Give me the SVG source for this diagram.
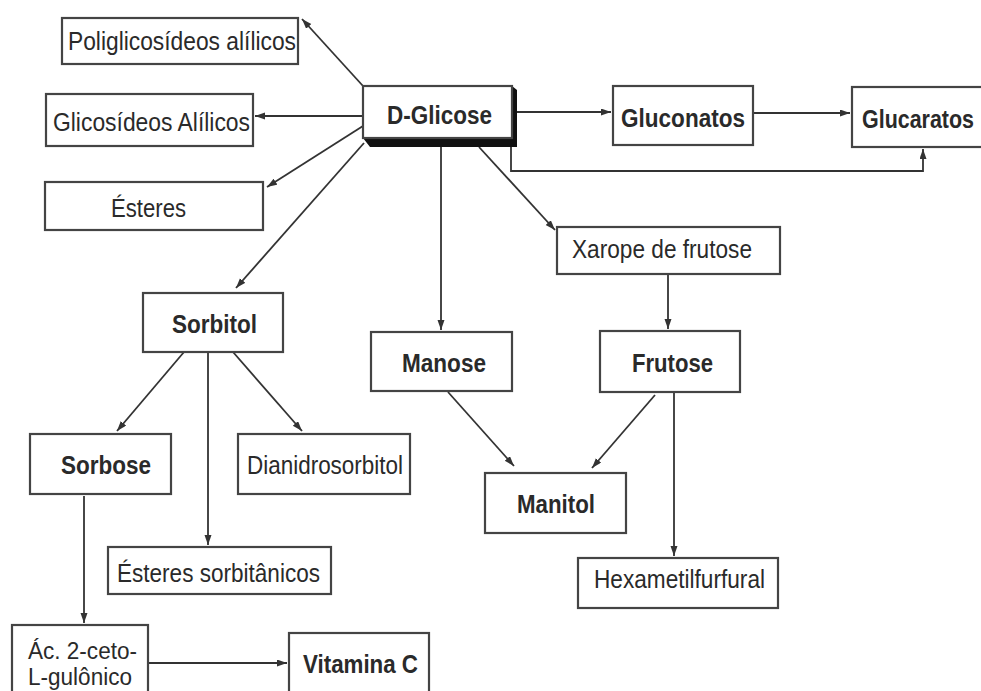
<svg xmlns="http://www.w3.org/2000/svg" width="981" height="691" viewBox="0 0 981 691">
<style>
.box{fill:#fff;stroke:#444;stroke-width:2.2}
.t{font-family:"Liberation Sans",Arial,sans-serif;font-size:25px;fill:#2a2a2a;text-anchor:middle}
.s{font-size:23px}
.b{font-weight:bold}
.c{fill:none;stroke:#333;stroke-width:1.8}
</style>
<defs>
<marker id="ah" markerUnits="userSpaceOnUse" markerWidth="11" markerHeight="8" refX="10" refY="3.5" orient="auto">
<path d="M0,0 L10,3.5 L0,7 z" fill="#333"/>
</marker>
</defs>
<rect width="981" height="691" fill="#fff"/>
<g id="connectors">
<line class="c" x1="363" y1="86" x2="302" y2="19" marker-end="url(#ah)"/>
<line class="c" x1="363" y1="116" x2="255" y2="116" marker-end="url(#ah)"/>
<line class="c" x1="363" y1="126" x2="267" y2="187" marker-end="url(#ah)"/>
<line class="c" x1="364" y1="143" x2="236" y2="288" marker-end="url(#ah)"/>
<line class="c" x1="441" y1="147" x2="441" y2="330" marker-end="url(#ah)"/>
<line class="c" x1="479" y1="147" x2="555" y2="230" marker-end="url(#ah)"/>
<line class="c" x1="517" y1="112" x2="611" y2="112" marker-end="url(#ah)"/>
<line class="c" x1="753" y1="113" x2="850" y2="113" marker-end="url(#ah)"/>
<polyline class="c" points="511,147 511,171 923,171 923,149" marker-end="url(#ah)"/>
<line class="c" x1="668" y1="274" x2="668" y2="329" marker-end="url(#ah)"/>
<line class="c" x1="184" y1="352" x2="117" y2="431" marker-end="url(#ah)"/>
<line class="c" x1="208" y1="352" x2="208" y2="545" marker-end="url(#ah)"/>
<line class="c" x1="233" y1="352" x2="302" y2="431" marker-end="url(#ah)"/>
<line class="c" x1="84" y1="496" x2="84" y2="623" marker-end="url(#ah)"/>
<line class="c" x1="148" y1="663" x2="287" y2="663" marker-end="url(#ah)"/>
<line class="c" x1="448" y1="392" x2="514" y2="466" marker-end="url(#ah)"/>
<line class="c" x1="655" y1="395" x2="592" y2="468" marker-end="url(#ah)"/>
<line class="c" x1="674" y1="392" x2="674" y2="556" marker-end="url(#ah)"/>
</g>
<g id="poliglicosideos">
<rect class="box" x="62" y="18" width="236" height="46"/>
<text class="t" x="182" y="50" textLength="228" lengthAdjust="spacingAndGlyphs">Poliglicosídeos alílicos</text>
</g>
<g id="glicosideos">
<rect class="box" x="46" y="94" width="207" height="52"/>
<text class="t" x="151.5" y="131" textLength="197" lengthAdjust="spacingAndGlyphs">Glicosídeos Alílicos</text>
</g>
<g id="esteres">
<rect class="box" x="45" y="182" width="218" height="48"/>
<text class="t" x="148.5" y="217" textLength="75" lengthAdjust="spacingAndGlyphs">Ésteres</text>
</g>
<g id="dglicose">
<polygon points="512,86 517,90 517,147 370,147 363,138 512,138" fill="#111"/>
<rect class="box" x="363" y="86" width="149" height="52"/>
<text class="t b" x="439.5" y="124" textLength="105" lengthAdjust="spacingAndGlyphs">D-Glicose</text>
</g>
<g id="gluconatos">
<rect class="box" x="613" y="86" width="140" height="59"/>
<text class="t b" x="683" y="127" textLength="124" lengthAdjust="spacingAndGlyphs">Gluconatos</text>
</g>
<g id="glucaratos">
<rect class="box" x="852" y="87" width="131" height="60"/>
<text class="t b" x="918" y="128" textLength="112" lengthAdjust="spacingAndGlyphs">Glucaratos</text>
</g>
<g id="xarope">
<rect class="box" x="557" y="227" width="223" height="47"/>
<text class="t" x="662" y="258" textLength="180" lengthAdjust="spacingAndGlyphs">Xarope de frutose</text>
</g>
<g id="sorbitol">
<rect class="box" x="143" y="293" width="140" height="59"/>
<text class="t b" x="214.5" y="333" textLength="85" lengthAdjust="spacingAndGlyphs">Sorbitol</text>
</g>
<g id="manose">
<rect class="box" x="371" y="332" width="141" height="59"/>
<text class="t b" x="444" y="372" textLength="84" lengthAdjust="spacingAndGlyphs">Manose</text>
</g>
<g id="frutose">
<rect class="box" x="600" y="331" width="140" height="61"/>
<text class="t b" x="672.5" y="372" textLength="81" lengthAdjust="spacingAndGlyphs">Frutose</text>
</g>
<g id="sorbose">
<rect class="box" x="30" y="434" width="141" height="60"/>
<text class="t b" x="106" y="474" textLength="90" lengthAdjust="spacingAndGlyphs">Sorbose</text>
</g>
<g id="dianidrosorbitol">
<rect class="box" x="238" y="434" width="172" height="60"/>
<text class="t" x="325" y="474" textLength="156" lengthAdjust="spacingAndGlyphs">Dianidrosorbitol</text>
</g>
<g id="manitol">
<rect class="box" x="485" y="473" width="141" height="60"/>
<text class="t b" x="556" y="513" textLength="78" lengthAdjust="spacingAndGlyphs">Manitol</text>
</g>
<g id="esteres-sorbitanicos">
<rect class="box" x="108" y="547" width="223" height="47"/>
<text class="t" x="218.5" y="582" textLength="203" lengthAdjust="spacingAndGlyphs">Ésteres sorbitânicos</text>
</g>
<g id="hexametilfurfural">
<rect class="box" x="578" y="558" width="200" height="50"/>
<text class="t" x="679.5" y="588" textLength="171" lengthAdjust="spacingAndGlyphs">Hexametilfurfural</text>
</g>
<g id="acido">
<rect class="box" x="12" y="625" width="136" height="75"/>
<text class="t s" x="82.5" y="659" textLength="109" lengthAdjust="spacingAndGlyphs">Ác. 2-ceto-</text>
<text class="t s" x="80" y="685" textLength="104" lengthAdjust="spacingAndGlyphs">L-gulônico</text>
</g>
<g id="vitamina-c">
<rect class="box" x="289" y="633" width="140" height="67"/>
<text class="t b" x="360.5" y="673" textLength="115" lengthAdjust="spacingAndGlyphs">Vitamina C</text>
</g>
</svg>
